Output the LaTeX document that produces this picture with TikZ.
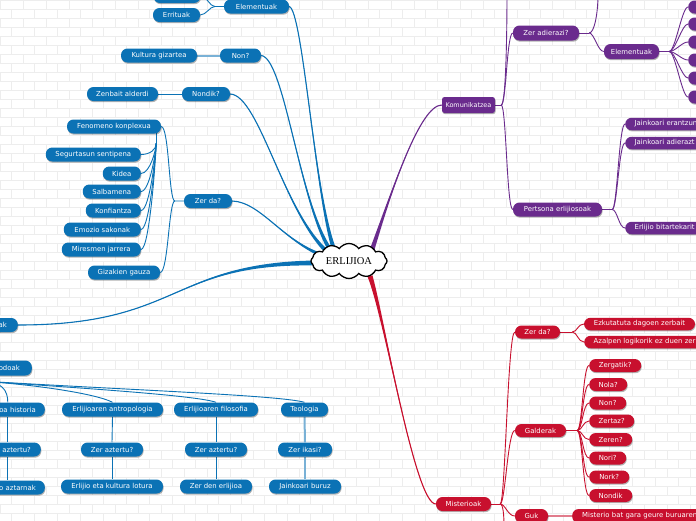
\documentclass[tikz,border=0pt]{standalone}
\usepackage{fontspec}
\newfontfamily\nodefont{DejaVu Sans}
\newfontfamily\cloudfont{Liberation Serif}
\usetikzlibrary{shapes.symbols,shadows,calc}
\definecolor{mblue}{RGB}{11,114,181}
\definecolor{mpurple}{RGB}{106,43,141}
\definecolor{mred}{RGB}{200,16,46}
\pgfdeclarelayer{bricks}\pgfdeclarelayer{links}
\pgfsetlayers{bricks,links,main}
% tapered main branch: colour, thin end, control 1, control 2, thick end, half-width vector
\newcommand\mmbranch[6]{%
  \fill[#1] (#2) .. controls (#3) and (#4) .. ($(#5)+(#6)$) -- ($(#5)-(#6)$) .. controls (#4) and (#3) .. (#2) -- cycle;
  \draw[#1,line width=1.1pt] (#2) .. controls (#3) and (#4) .. (#5);}
\tikzset{
  box/.style={rounded corners=6.5pt, minimum height=14pt, inner xsep=4pt, inner ysep=0pt,
    text=white, font=\nodefont\fontsize{6.9}{8}\selectfont,
    drop shadow={shadow xshift=0.6pt, shadow yshift=-1.2pt, opacity=0.3, fill=black}},
  bn/.style={box, fill=mblue},
  pn/.style={box, fill=mpurple},
  rn/.style={box, fill=mred},
  bl/.style={draw=mblue, line width=0.9pt},
  pl/.style={draw=mpurple, line width=0.9pt},
  rl/.style={draw=mred, line width=0.9pt},
  blite/.style={draw=mblue!55, line width=2pt},
  rlite/.style={draw=mred!55, line width=2pt},
  brick/.style={draw=black!7, line width=0.6pt}
}
\begin{document}
\begin{tikzpicture}[x=1pt,y=-1pt]
\useasboundingbox (0,0) rectangle (696,520);
\begin{pgfonlayer}{bricks}
  \fill[white] (0,0) rectangle (696,520);
  \foreach \r in {0,...,58} {
    \pgfmathsetmacro\yy{\r*9}
    \pgfmathsetmacro\off{mod(\r,2)*11.5}
    \draw[brick] (0,\yy) -- (696,\yy);
    \foreach \k in {0,...,30} { \draw[brick] (\off+\k*23,\yy) -- ++(0,9); }
  }
\end{pgfonlayer}

% ---------- blue nodes ----------
\node[bn,minimum width=47pt] (elemtop) at (177,-4) {};
\node[bn,minimum width=47pt] (errit) at (176.5,15) {Errituak};
\node[bn,minimum width=65pt] (elem) at (256.5,6.5) {Elementuak};
\node[bn,minimum width=76pt] (kg) at (159,55.5) {Kultura gizartea};
\node[bn,minimum width=41pt] (non) at (240.5,55.5) {Non?};
\node[bn,minimum width=71pt] (zal) at (122.5,94) {Zenbait alderdi};
\node[bn,minimum width=48pt] (nondik) at (206,94) {Nondik?};
\node[bn,minimum width=48pt] (zerda) at (208,201) {Zer da?};
\node[bn,minimum width=94pt] (fk) at (114,126.5) {Fenomeno konplexua};
\node[bn,minimum width=95pt,anchor=east] (seg) at (141,154.5) {Segurtasun sentipena};
\node[bn,minimum width=38pt,anchor=east] (kidea) at (141,173.5) {Kidea};
\node[bn,minimum width=58pt,anchor=east] (salb) at (141,191.5) {Salbamena};
\node[bn,minimum width=55pt,anchor=east] (konf) at (141,210.5) {Konfiantza};
\node[bn,minimum width=77pt,anchor=east] (emo) at (141,229.5) {Emozio sakonak};
\node[bn,minimum width=79pt,anchor=east] (mir) at (141,249.5) {Miresmen jarrera};
\node[bn,minimum width=72pt] (giz) at (124,272.5) {Gizakien gauza};

\node[bn,anchor=east,inner xsep=11pt,text width=40pt,align=right] (ak) at (18,325) {ak};
\node[bn,anchor=east,inner xsep=12pt,text width=40pt,align=right,minimum height=15pt] (met) at (32,368) {odoak};
\node[bn,anchor=east,inner xsep=9pt,text width=56pt,align=right] (hist) at (45,409.5) {oa historia};
\node[bn,anchor=east,inner xsep=10pt,text width=46pt,align=right] (azt0) at (41,449.5) {aztertu?};
\node[bn,anchor=east,inner xsep=9pt,text width=56pt,align=right] (aztar) at (45,487.5) {o aztarnak};

\node[bn,minimum width=101pt] (ant) at (112.5,409.5) {Erlijioaren antropologia};
\node[bn,minimum width=62pt] (za1) at (112,449.5) {Zer aztertu?};
\node[bn,minimum width=102pt] (lot) at (112,486.5) {Erlijio eta kultura lotura};
\node[bn,minimum width=84pt] (fil) at (216,409.5) {Erlijioaren filosofia};
\node[bn,minimum width=62pt] (za2) at (216,449.5) {Zer aztertu?};
\node[bn,minimum width=72pt] (zden) at (216,486.5) {Zer den erlijioa};
\node[bn,minimum width=47pt] (teo) at (304.5,409.5) {Teologia};
\node[bn,minimum width=54pt] (zik) at (305,449.5) {Zer ikasi?};
\node[bn,minimum width=72pt] (jb) at (305,486.5) {Jainkoari buruz};

% ---------- purple nodes ----------
\node[pn,minimum width=53pt,rounded corners=2.5pt,inner xsep=2pt,minimum height=16pt,font=\nodefont\fontsize{6.5}{8}\selectfont] (kom) at (468.5,105) {Komunikatzea};
\node[pn,minimum width=66pt,minimum height=15pt] (zadi) at (546,33) {Zer adierazi?};
\node[pn,minimum width=55pt,minimum height=15pt] (pel) at (631.5,51.5) {Elementuak};
\foreach \i/\yy in {1/7,2/24,3/42,4/60,5/78,6/97}
  \node[pn,anchor=west,minimum width=40pt,minimum height=13pt] (p\i) at (688,\yy) {};
\node[pn,minimum width=89pt] (pers) at (557.5,209.5) {Pertsona erlijiosoak};
\node[pn,anchor=west,inner xsep=9.5pt,text width=90pt,align=left,minimum height=12.5pt] (jer) at (625,124) {Jainkoari erantzun};
\node[pn,anchor=west,inner xsep=9.5pt,text width=90pt,align=left,minimum height=12.5pt] (jad) at (625,143) {Jainkoari adierazt};
\node[pn,anchor=west,inner xsep=9.5pt,text width=90pt,align=left,minimum height=12.5pt] (ebit) at (625,228) {Erlijio bitartekarit};

% ---------- red nodes ----------
\node[rn,minimum width=55pt] (mist) at (463.5,504) {Misterioak};
\node[rn,minimum width=45pt,minimum height=13pt] (rzd) at (537.5,332) {Zer da?};
\node[rn,minimum width=111pt,minimum height=12.5pt] (ezk) at (639.5,324) {Ezkutatuta dagoen zerbait};
\node[rn,anchor=west,inner xsep=9.5pt,text width=130pt,align=left,minimum height=12.5pt] (azal) at (584,342) {Azalpen logikorik ez duen zer};
\node[rn,minimum width=51pt,minimum height=13pt] (gald) at (540.5,430.5) {Galderak};
\node[rn,anchor=west,minimum width=52pt,minimum height=13pt] (zerg) at (589,365.5) {Zergatik?};
\node[rn,anchor=west,minimum width=38pt,minimum height=13pt] (nola) at (589,384.5) {Nola?};
\node[rn,anchor=west,minimum width=37pt,minimum height=13pt] (rnon) at (589,403) {Non?};
\node[rn,anchor=west,minimum width=45pt,minimum height=13pt] (zertaz) at (589,421) {Zertaz?};
\node[rn,anchor=west,minimum width=43pt,minimum height=13pt] (zeren) at (589,439.5) {Zeren?};
\node[rn,anchor=west,minimum width=37pt,minimum height=13pt] (nori) at (589,458) {Nori?};
\node[rn,anchor=west,minimum width=40pt,minimum height=13pt] (nork) at (589,477) {Nork?};
\node[rn,anchor=west,minimum width=43pt,minimum height=13pt] (nondikr) at (589,495.5) {Nondik};
\node[rn,minimum width=33pt] (guk) at (531.5,516) {Guk};
\node[rn,anchor=west,inner xsep=10pt,text width=130pt,align=left] (mbat) at (572,516) {Misterio bat gara geure buruaren};

% ---------- centre ----------
\node[cloud, draw, fill=white, line width=1.3pt, cloud puffs=12, cloud puff arc=110, aspect=2.4,
      minimum width=76pt, minimum height=31pt, inner sep=0pt,
      font=\cloudfont\fontsize{10.5}{12}\selectfont] (c) at (349,261) {ERLIJIOA};

% ---------- connectors ----------
\coordinate (e1) at (335,252);
\coordinate (e2) at (333,254);
\coordinate (e3) at (332,256);
\coordinate (e4) at (330,258);
\coordinate (e5) at (315,263);
\coordinate (e6) at (372,250);
\coordinate (e7) at (370,276);
\coordinate (mj) at (-20,381);
\coordinate (kup) at (507,-6);
\coordinate (zup) at (598,-6);
\coordinate (mdown) at (504,526);
\begin{pgfonlayer}{links}
  \mmbranch{mblue}{elem.east}{303,10}{315,200}{e1}{-2.1,0.8}
  \mmbranch{mblue}{non.east}{285,58}{300,210}{e2}{-1.8,1.4}
  \mmbranch{mblue}{nondik.east}{260,95}{285,220}{e3}{-1.4,1.8}
  \mmbranch{mblue}{zerda.east}{262,202}{285,245}{e4}{-0.6,2.2}
  \mmbranch{mblue}{ak.east}{180,325}{170,263}{e5}{0,2.5}
  \mmbranch{mpurple}{kom.west}{420,105}{392,190}{e6}{2.2,0.7}
  \mmbranch{mred}{mist.west}{415,504}{385,320}{e7}{2.4,-0.8}

  \draw[bl] (elem.west) -- ++(-9,0) coordinate (ej) .. controls +(-5,0) and +(6,0) .. (errit.east);
  \draw[bl] (ej) .. controls +(-5,0) and +(6,0) .. (elemtop.east);
  \draw[blite] (kg.east) -- (non.west);
  \draw[bl] (zal.east) -- (nondik.west);
  \draw[bl] (zerda.west) -- ++(-9,0) coordinate (zj) .. controls +(-6,0) and +(8,0) .. (fk.east);
  \draw[bl] (zj) .. controls +(-6,0) and +(8,0) .. (giz.east);
  \draw[bl] ($(fk.east)+(-5,0)$) -- ++(0,17) coordinate (fj);
  \foreach \n in {seg,kidea,salb,konf,emo,mir}
    \draw[bl] (fj) .. controls +(0,6) and +(9,0) .. (\n.east);

  \draw[bl] (mj) .. controls +(22,0) and +(0,-12) .. (hist.north);
  \draw[bl] (mj) .. controls +(60,4) and +(-15,-8) .. (ant.north);
  \draw[bl] (mj) .. controls +(100,7) and +(-20,-7) .. (fil.north);
  \draw[bl] (mj) .. controls +(150,9) and +(-25,-7) .. (teo.north);
  \draw[bl] (hist.south) -- (azt0.north);
  \draw[bl] (azt0.south) -- (aztar.north);
  \draw[bl] (ant.south) -- (za1.north);
  \draw[bl] (za1.south) -- (lot.north);
  \draw[bl] (fil.south) -- (za2.north);
  \draw[bl] (za2.south) -- (zden.north);
  \draw[blite] (teo.south) -- (zik.north);
  \draw[blite] (zik.south) -- (jb.north);

  \draw[pl] (kom.east) -- ++(6,0) coordinate (kj);
  \draw[pl] (kj) .. controls +(5,0) and +(-6,0) .. (zadi.west);
  \draw[pl] (kj) .. controls +(5,0) and +(0,30) .. (kup);
  \draw[pl] (kj) .. controls +(5,0) and +(-6,0) .. (pers.west);
  \draw[pl] (zadi.east) -- ++(10,0) coordinate (zaj);
  \draw[pl] (zaj) .. controls +(5,0) and +(0,20) .. (zup);
  \draw[pl] (zaj) .. controls +(5,0) and +(-6,0) .. (pel.west);
  \draw[pl] (pel.east) -- ++(10,0) coordinate (pej);
  \foreach \i in {1,...,6}
    \draw[pl] (pej) .. controls +(6,0) and +(-6,0) .. (p\i.west);
  \draw[pl] (pers.east) -- ++(10,0) coordinate (psj);
  \foreach \n in {jer,jad,ebit}
    \draw[pl] (psj) .. controls +(5,0) and +(-6,0) .. (\n.west);

  \draw[rl] (mist.east) -- ++(9,0) coordinate (mj2);
  \foreach \n in {rzd,gald,guk}
    \draw[rl] (mj2) .. controls +(5,0) and +(-7,0) .. (\n.west);
  \draw[rl] (mj2) .. controls +(3,0) and +(0,-10) .. (mdown);
  \draw[rl] (rzd.east) -- ++(12,0) coordinate (rzj);
  \foreach \n in {ezk,azal}
    \draw[rl] (rzj) .. controls +(5,0) and +(-6,0) .. (\n.west);
  \draw[rl] (gald.east) -- ++(11,0) coordinate (gj);
  \foreach \n in {zerg,nola,rnon,zertaz,zeren,nori,nork,nondikr}
    \draw[rl] (gj) .. controls +(5,0) and +(-6,0) .. (\n.west);
  \draw[rlite] (guk.east) -- (mbat.west);
\end{pgfonlayer}
\end{tikzpicture}
\end{document}
